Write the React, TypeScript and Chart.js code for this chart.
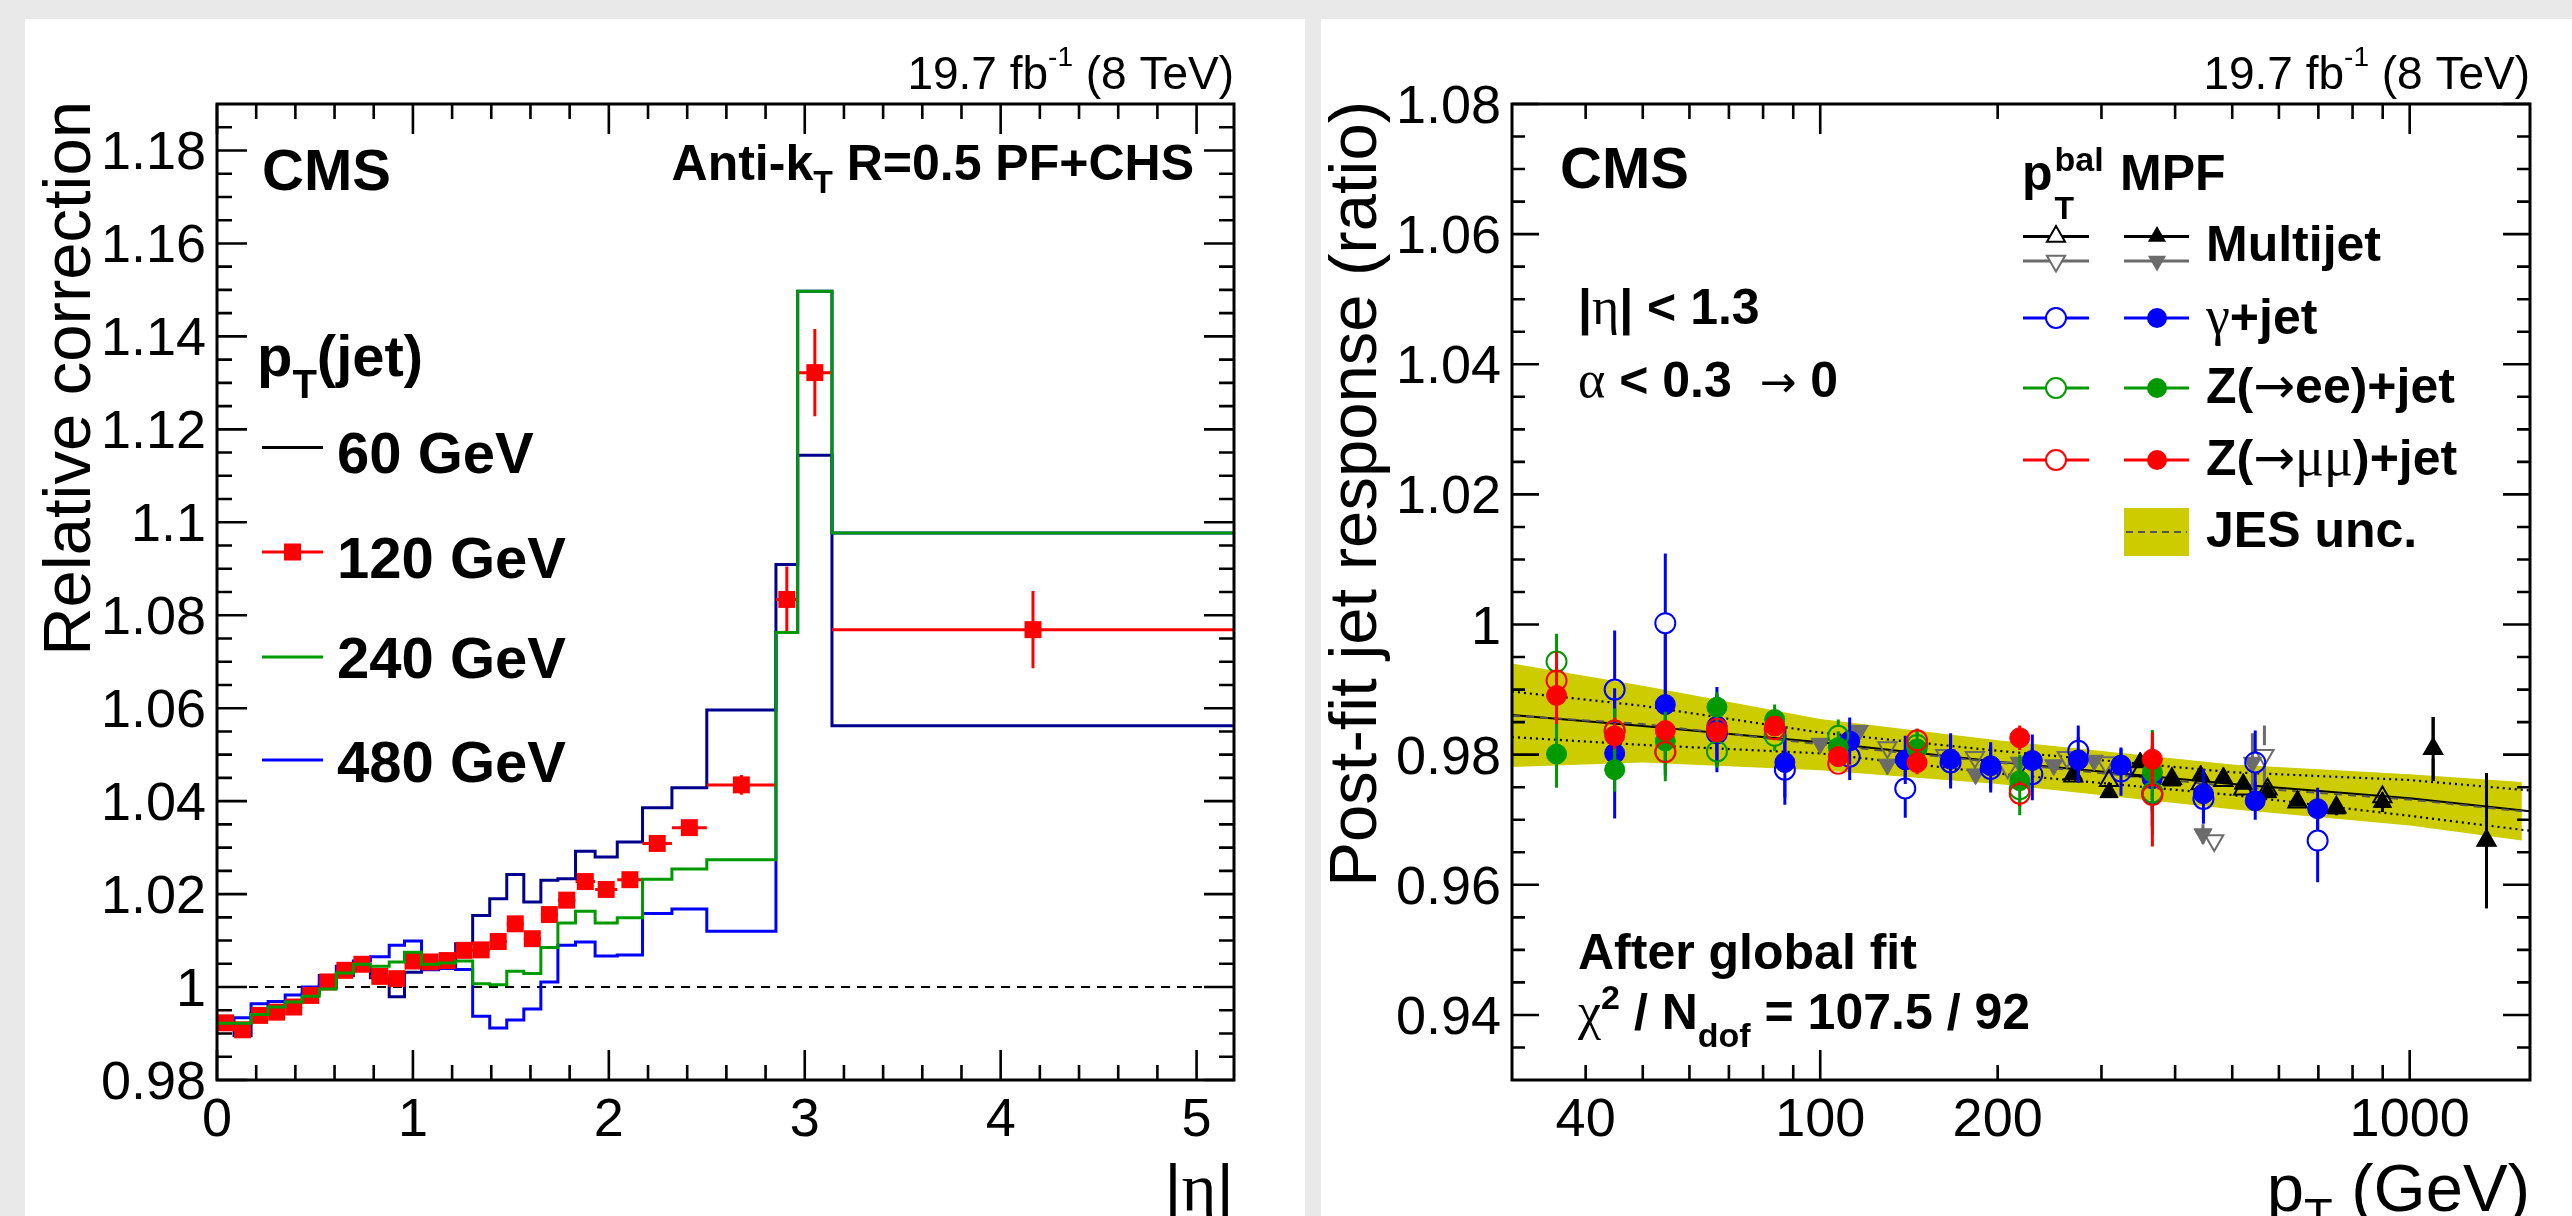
import React, { useEffect, useRef } from 'react';
import { Chart, registerables } from 'chart.js';

Chart.register(...registerables);

const SANS = '"Liberation Sans", Arial, Helvetica, sans-serif';
const SERIF = '"Liberation Serif", "Times New Roman", serif';
const ARROW = '"DejaVu Sans", sans-serif';

// ---------------- Left panel data ----------------
const etaEdges = [0, 0.087, 0.174, 0.261, 0.348, 0.435, 0.522, 0.609, 0.696, 0.783, 0.879, 0.957, 1.044, 1.131, 1.218, 1.305, 1.392, 1.479, 1.566, 1.653, 1.74, 1.83, 1.93, 2.043, 2.172, 2.322, 2.5, 2.853, 2.964, 3.139, 5.191];
const corr60 = [0.9921, 0.9896, 0.9943, 0.996, 0.9968, 0.9986, 1.0005, 1.0025, 1.0047, 1.002, 0.9979, 1.0032, 1.0038, 1.0046, 1.0093, 1.0154, 1.019, 1.0242, 1.0183, 1.023, 1.0233, 1.0292, 1.028, 1.0312, 1.0386, 1.0429, 1.0596, 1.0909, 1.1144, 1.0562];
const corr120 = [0.9923, 0.9908, 0.9939, 0.9946, 0.9957, 0.9982, 1.0011, 1.0036, 1.0049, 1.0023, 1.0018, 1.0056, 1.0054, 1.0057, 1.0079, 1.008, 1.0098, 1.0136, 1.0104, 1.0156, 1.0187, 1.0227, 1.021, 1.0231, 1.0309, 1.0343, 1.0435, 1.0834, 1.1322, 1.0769];
const corr120Err = [0.0012, 0.0012, 0.0012, 0.0012, 0.0012, 0.0012, 0.0012, 0.0012, 0.0012, 0.0012, 0.0012, 0.0012, 0.0012, 0.0012, 0.0012, 0.0012, 0.0012, 0.0012, 0.0012, 0.0012, 0.0012, 0.0014, 0.0014, 0.0014, 0.0014, 0.0014, 0.0021, 0.0071, 0.0094, 0.0083];
const corr240 = [0.9922, 0.9922, 0.9941, 0.9957, 0.9968, 0.998, 0.9996, 1.003, 1.0049, 1.0045, 1.0054, 1.0075, 1.0049, 1.0052, 1.0056, 1.0007, 1.0005, 1.0034, 1.0029, 1.0085, 1.0138, 1.0163, 1.0138, 1.0149, 1.0232, 1.0254, 1.0274, 1.0763, 1.1497, 1.0977];
const corr480 = [0.9925, 0.9934, 0.9964, 0.9969, 0.9983, 1.0, 1.0025, 1.0045, 1.0056, 1.0065, 1.009, 1.0099, 1.0037, 1.004, 1.0038, 0.9937, 0.9912, 0.9929, 0.9953, 1.0011, 1.009, 1.0097, 1.0067, 1.0069, 1.0158, 1.0168, 1.012, 1.0763, 1.1497, 1.0977];
const refEta = [0, 5.191];
const refVal = [1, 1];
const leftXTicks = [0, 1, 2, 3, 4, 5];
const leftXLabels = ['0', '1', '2', '3', '4', '5'];
const leftYTicks = [0.98, 1.0, 1.02, 1.04, 1.06, 1.08, 1.1, 1.12, 1.14, 1.16, 1.18];
const leftYLabels = ['0.98', '1', '1.02', '1.04', '1.06', '1.08', '1.1', '1.12', '1.14', '1.16', '1.18'];
const leftLegend = ['60 GeV', '120 GeV', '240 GeV', '480 GeV'];

// ---------------- Right panel data ----------------
const jesPt = [30, 50, 100, 200, 500, 1000, 1550];
const jesUp = [0.994, 0.9906, 0.9855, 0.9822, 0.9785, 0.977, 0.9758];
const jesDn = [0.9781, 0.9788, 0.9776, 0.9755, 0.9716, 0.9691, 0.9668];
const jesMid = [0.986, 0.9847, 0.9816, 0.9788, 0.9751, 0.9731, 0.9713];
const fitPt = [30, 50, 100, 200, 500, 1000, 1600];
const fitVal = [0.9861, 0.9844, 0.9819, 0.9789, 0.9755, 0.9733, 0.9713];
const fitUp = [0.9897, 0.9875, 0.9834, 0.9806, 0.9773, 0.9761, 0.9745];
const fitDn = [0.9827, 0.9815, 0.9802, 0.9771, 0.9738, 0.9706, 0.9683];

const mjPt = [268.7, 309, 349, 395, 442, 483, 522, 574, 645, 751, 899, 1096, 1350];
const mjMpf = [0.977, 0.9742, 0.9788, 0.976, 0.9768, 0.9765, 0.9755, 0.9742, 0.9729, 0.9717, 0.9727, 0.9809, 0.9668];
const mjBal = [0.9767, 0.976, 0.9775, 0.9763, 0.9755, 0.976, 0.9747, 0.9747, 0.9727, 0.9719, 0.9735, 0.9809, 0.9668];
const mjErr = [0.0008, 0.0008, 0.0008, 0.0008, 0.0008, 0.0008, 0.0008, 0.0008, 0.0008, 0.001, 0.0015, 0.0049, 0.0104];

const mj2MpfPt = [100, 116, 130, 183.5, 217.6, 249, 291.6, 446, 541];
const mj2Mpf = [0.9817, 0.9837, 0.9785, 0.977, 0.9788, 0.9784, 0.9791, 0.9678, 0.9788];
const mj2MpfErr = [0.0006, 0.0006, 0.0006, 0.0006, 0.0006, 0.0006, 0.0008, 0.0015, 0.0045];
const mj2BalPt = [116, 130, 163, 183, 208, 262, 305, 466, 567];
const mj2Bal = [0.9836, 0.9811, 0.9799, 0.9796, 0.978, 0.9796, 0.9788, 0.9668, 0.9799];
const mj2BalErr = [0.0006, 0.0006, 0.0006, 0.0006, 0.0006, 0.0006, 0.0008, 0.0015, 0.0046];

const gjPt = [44.8, 54.6, 66.8, 87.1, 112.2, 139.4, 166.4, 194.6, 229, 274, 323.8, 365.8, 446.8, 547, 698];
const gjMpf = [0.9802, 0.9877, 0.9844, 0.9788, 0.9821, 0.9792, 0.9793, 0.9783, 0.9791, 0.9792, 0.9784, 0.9763, 0.974, 0.9729, 0.9717];
const gjMpfErr = [0.01, 0.0109, 0.006, 0.0054, 0.0036, 0.0037, 0.004, 0.0036, 0.004, 0.0035, 0.0025, 0.005, 0.0038, 0.0029, 0.0032];
const gjBal = [0.99, 1.0002, 0.9833, 0.9777, 0.9797, 0.9748, 0.9788, 0.9778, 0.977, 0.9806, 0.9774, 0.974, 0.9732, 0.9788, 0.9668];
const gjBalErr = [0.0091, 0.0107, 0.006, 0.0054, 0.0036, 0.0045, 0.004, 0.0036, 0.004, 0.0039, 0.0037, 0.005, 0.0038, 0.0049, 0.0064];

const zPt = [35.7, 44.8, 54.6, 66.8, 83.7, 107.3, 146, 218, 366];
const zeeMpf = [0.9801, 0.9777, 0.9821, 0.9873, 0.9854, 0.9811, 0.9809, 0.976, 0.9773];
const zeeMpfErr = [0.0052, 0.0034, 0.0045, 0.0023, 0.0023, 0.0025, 0.0025, 0.004, 0.0065];
const zeeBal = [0.9943, 0.9837, 0.9804, 0.9805, 0.9829, 0.9829, 0.9815, 0.9747, 0.9742];
const zeeBalErr = [0.0043, 0.0034, 0.0045, 0.0025, 0.0023, 0.0025, 0.0025, 0.004, 0.0065];
const zmmMpf = [0.9891, 0.9829, 0.9837, 0.9835, 0.9844, 0.9797, 0.9788, 0.9826, 0.9793];
const zmmMpfErr = [0.0044, 0.002, 0.0015, 0.0015, 0.0015, 0.0015, 0.0018, 0.0019, 0.0041];
const zmmBal = [0.9914, 0.9837, 0.9804, 0.984, 0.9839, 0.9786, 0.9822, 0.974, 0.9738];
const zmmBalErr = [0.0044, 0.002, 0.0015, 0.0015, 0.0015, 0.0015, 0.0018, 0.0019, 0.0079];

const rightXTicks = [40, 100, 200, 1000];
const rightXLabels = ['40', '100', '200', '1000'];
const rightYTicks = [0.94, 0.96, 0.98, 1.0, 1.02, 1.04, 1.06, 1.08];
const rightYLabels = ['0.94', '0.96', '0.98', '1', '1.02', '1.04', '1.06', '1.08'];

// ---------------- Geometry (page coordinates) ----------------
const LP = { x: 25, y: 19, w: 1280, h: 1197 };
const RP = { x: 1321, y: 19, w: 1251, h: 1197 };
const LF = { l: 217, r: 1234, t: 104, b: 1080 };
const RF = { l: 1512, r: 2530, t: 104, b: 1080 };

const C_NAVY = '#00008c';
const C_BLUE = '#0000ff';
const C_GREEN = '#009a00';
const C_RED = '#ff0000';
const C_GRAY = '#6b6b6b';
const C_BAND = '#cccc00';

type Seg = { t: string; f: string; dy?: number };

function rich(ctx: any, segs: Seg[], x: number, y: number, align: string) {
  let w = 0;
  for (const s of segs) { ctx.font = s.f; w += ctx.measureText(s.t).width; }
  let cx = align === 'left' ? x : align === 'right' ? x - w : x - w / 2;
  ctx.textAlign = 'left';
  ctx.textBaseline = 'alphabetic';
  for (const s of segs) {
    ctx.font = s.f;
    ctx.fillText(s.t, cx, y + (s.dy || 0));
    cx += ctx.measureText(s.t).width;
  }
}

function rotText(ctx: any, segs: Seg[], x: number, y: number) {
  ctx.save();
  ctx.translate(x, y);
  ctx.rotate(-Math.PI / 2);
  rich(ctx, segs, 0, 0, 'right');
  ctx.restore();
}

function legendMarker(ctx: any, kind: string, x: number, y: number, color: string, filled: boolean) {
  ctx.save();
  ctx.fillStyle = color;
  ctx.strokeStyle = color;
  ctx.lineWidth = 2;
  ctx.beginPath();
  const r = 10.5;
  if (kind === 'circle') ctx.arc(x, y, 10, 0, Math.PI * 2);
  else if (kind === 'up') { ctx.moveTo(x, y - r); ctx.lineTo(x + 0.866 * r, y + 0.5 * r); ctx.lineTo(x - 0.866 * r, y + 0.5 * r); ctx.closePath(); }
  else if (kind === 'down') { ctx.moveTo(x, y + r); ctx.lineTo(x + 0.866 * r, y - 0.5 * r); ctx.lineTo(x - 0.866 * r, y - 0.5 * r); ctx.closePath(); }
  else if (kind === 'square') ctx.rect(x - 8.5, y - 8.5, 17, 17);
  if (filled) ctx.fill();
  else { ctx.fillStyle = '#ffffff'; ctx.fill(); ctx.stroke(); }
  ctx.restore();
}

function hline(ctx: any, x1: number, x2: number, y: number, color: string, w: number, dash?: number[]) {
  ctx.save();
  ctx.strokeStyle = color;
  ctx.lineWidth = w;
  if (dash) ctx.setLineDash(dash);
  ctx.beginPath();
  ctx.moveTo(x1, y);
  ctx.lineTo(x2, y);
  ctx.stroke();
  ctx.restore();
}

function drawAxes(chart: any, cfg: any) {
  const { ctx, chartArea: a } = chart;
  const xs = chart.scales.x;
  const ys = chart.scales.y;
  ctx.save();
  ctx.strokeStyle = '#000';
  ctx.lineWidth = 2.6;
  ctx.beginPath();
  const xt = (vals: number[], len: number) => {
    for (const v of vals) {
      const p = xs.getPixelForValue(v);
      ctx.moveTo(p, a.bottom); ctx.lineTo(p, a.bottom - len);
      ctx.moveTo(p, a.top); ctx.lineTo(p, a.top + len);
    }
  };
  const yt = (vals: number[], len: number) => {
    for (const v of vals) {
      const p = ys.getPixelForValue(v);
      ctx.moveTo(a.left, p); ctx.lineTo(a.left + len, p);
      ctx.moveTo(a.right, p); ctx.lineTo(a.right - len, p);
    }
  };
  xt(cfg.xMajor, cfg.xMajLen);
  xt(cfg.xMinor, cfg.xMinLen);
  yt(cfg.yMajor, cfg.yMajLen);
  yt(cfg.yMinor, cfg.yMinLen);
  ctx.stroke();
  ctx.lineWidth = 3;
  ctx.strokeRect(a.left, a.top, a.right - a.left, a.bottom - a.top);
  ctx.fillStyle = '#000';
  const f = `54px ${SANS}`;
  cfg.xLabelVals.forEach((v: number, i: number) => {
    rich(ctx, [{ t: cfg.xLabels[i], f }], xs.getPixelForValue(v), a.bottom + 56, 'center');
  });
  cfg.yLabelVals.forEach((v: number, i: number) => {
    rich(ctx, [{ t: cfg.yLabels[i], f }], a.left - 11, ys.getPixelForValue(v) + 19, 'right');
  });
  ctx.restore();
}

const errorBarPlugin = {
  id: 'errbars',
  beforeDatasetDraw(chart: any, args: any) {
    const ds: any = chart.data.datasets[args.index];
    if (!ds.errY && !ds.errXLo) return;
    const ctx = chart.ctx;
    const xs = chart.scales.x;
    const ys = chart.scales.y;
    const a = chart.chartArea;
    ctx.save();
    ctx.beginPath();
    ctx.rect(a.left, a.top, a.right - a.left, a.bottom - a.top);
    ctx.clip();
    ctx.strokeStyle = ds.errColor;
    ctx.lineWidth = ds.errWidth || 3;
    const gap = ds.errGap || 0;
    ctx.beginPath();
    ds.data.forEach((p: any, i: number) => {
      const px = xs.getPixelForValue(p.x);
      const py = ys.getPixelForValue(p.y);
      if (ds.errY) {
        const e = ds.errY[i];
        const y1 = ys.getPixelForValue(p.y + e);
        const y2 = ys.getPixelForValue(p.y - e);
        if (py - gap > y1) { ctx.moveTo(px, y1); ctx.lineTo(px, py - gap); }
        if (y2 > py + gap) { ctx.moveTo(px, py + gap); ctx.lineTo(px, y2); }
      }
      if (ds.errXLo) {
        const x1 = xs.getPixelForValue(ds.errXLo[i]);
        const x2 = xs.getPixelForValue(ds.errXHi[i]);
        ctx.moveTo(x1, py); ctx.lineTo(x2, py);
      }
    });
    ctx.stroke();
    ctx.restore();
  },
};

function pts(xs: number[], ys: number[]) {
  return xs.map((x, i) => ({ x, y: ys[i] }));
}

function stepPts(edges: number[], vals: number[]) {
  const p = vals.map((v, i) => ({ x: edges[i], y: v }));
  p.push({ x: edges[edges.length - 1], y: vals[vals.length - 1] });
  return p;
}

function withOrder(list: any[]) {
  return list.map((d, i) => ({ ...d, order: -i }));
}

function baseOptions(panel: any, frame: any, xScale: any, yScale: any) {
  return {
    responsive: false,
    maintainAspectRatio: false,
    animation: false,
    devicePixelRatio: 1,
    events: [],
    layout: {
      padding: {
        left: frame.l - panel.x,
        top: frame.t - panel.y,
        right: panel.x + panel.w - frame.r,
        bottom: panel.y + panel.h - frame.b,
      },
    },
    plugins: { legend: { display: false }, tooltip: { enabled: false } },
    scales: { x: { ...xScale, display: false }, y: { ...yScale, display: false } },
  };
}

function leftConfig(): any {
  const centers = corr120.map((_, i) => (etaEdges[i] + etaEdges[i + 1]) / 2);
  const stepDs = (label: string, vals: number[], color: string) => ({
    label, data: stepPts(etaEdges, vals), stepped: 'before', borderColor: color, borderWidth: 3, pointRadius: 0, fill: false,
  });
  const datasets = withOrder([
    { label: 'ref', data: pts(refEta, refVal), borderColor: '#000', borderWidth: 2, borderDash: [9, 7], pointRadius: 0, fill: false },
    stepDs('60 GeV', corr60, C_NAVY),
    stepDs('480 GeV', corr480, C_BLUE),
    {
      label: '120 GeV', data: pts(centers, corr120), showLine: false, pointStyle: 'rect', pointRadius: 12,
      pointBackgroundColor: C_RED, pointBorderColor: C_RED, pointBorderWidth: 0,
      errY: corr120Err, errXLo: etaEdges.slice(0, -1), errXHi: etaEdges.slice(1), errColor: C_RED, errWidth: 3,
    },
    stepDs('240 GeV', corr240, C_GREEN),
  ]);
  const xMinor: number[] = [];
  for (let i = 1; i <= 25; i++) if (i % 5 !== 0) xMinor.push(i * 0.2);
  const yMinor: number[] = [];
  for (let i = 1; i < 42; i++) if (i % 4 !== 0) yMinor.push(0.98 + i * 0.005);
  const decor = {
    id: 'leftDecor',
    afterDraw(chart: any) {
      drawAxes(chart, {
        xMajor: leftXTicks, xMinor, yMajor: leftYTicks, yMinor,
        xMajLen: 30, xMinLen: 15, yMajLen: 30, yMinLen: 15,
        xLabelVals: leftXTicks, xLabels: leftXLabels, yLabelVals: leftYTicks, yLabels: leftYLabels,
      });
      const ctx = chart.ctx;
      ctx.save();
      ctx.translate(-LP.x, -LP.y);
      ctx.fillStyle = '#000';
      const B = (s: number) => `bold ${s}px ${SANS}`;
      const N = (s: number) => `${s}px ${SANS}`;
      rich(ctx, [{ t: '19.7 fb', f: N(46) }, { t: '-1', f: N(28), dy: -23 }, { t: ' (8 TeV)', f: N(46) }], 1234, 89, 'right');
      rich(ctx, [{ t: 'CMS', f: B(58) }], 262, 190, 'left');
      rich(ctx, [{ t: 'Anti-k', f: B(50) }, { t: 'T', f: B(32), dy: 13 }, { t: ' R=0.5 PF+CHS', f: B(50) }], 1194, 180, 'right');
      rich(ctx, [{ t: 'p', f: B(58) }, { t: 'T', f: B(40), dy: 22 }, { t: '(jet)', f: B(58) }], 257, 376, 'left');
      const rowsLine = [447.5, 552, 657, 760];
      const rowsText = [473, 578, 678, 782];
      const cols = ['#000000', C_RED, C_GREEN, C_BLUE];
      leftLegend.forEach((lab, i) => {
        hline(ctx, 262, 323, rowsLine[i], cols[i], 3);
        if (i === 1) legendMarker(ctx, 'square', 292.5, rowsLine[i], C_RED, true);
        rich(ctx, [{ t: lab, f: B(58) }], 337, rowsText[i], 'left');
      });
      rotText(ctx, [{ t: 'Relative correction', f: N(67) }], 90, 101);
      rich(ctx, [{ t: '|', f: N(67) }, { t: 'η', f: `67px ${SERIF}` }, { t: '|', f: N(67) }], 1234, 1211, 'right');
      ctx.restore();
    },
  };
  return {
    type: 'line',
    data: { datasets },
    options: baseOptions(LP, LF, { type: 'linear', min: 0, max: 5.191 }, { type: 'linear', min: 0.98, max: 1.19 }),
    plugins: [errorBarPlugin, decor],
  };
}

function markerDs(label: string, xs: number[], ys: number[], errs: number[], color: string, kind: string, filled: boolean) {
  const tri = kind !== 'circle';
  return {
    label,
    data: pts(xs, ys),
    showLine: false,
    pointStyle: tri ? 'triangle' : 'circle',
    pointRotation: kind === 'down' ? 180 : 0,
    pointRadius: tri ? 10.5 : 10,
    pointBackgroundColor: filled ? color : 'rgba(0,0,0,0)',
    pointBorderColor: color,
    pointBorderWidth: filled ? 1 : 2,
    borderColor: color,
    errY: errs,
    errColor: color,
    errWidth: 3,
    errGap: filled ? 0 : 10,
  };
}

function rightConfig(): any {
  const lineDs = (label: string, xs: number[], ys: number[], color: string, w: number, dash?: number[]) => ({
    label, data: pts(xs, ys), borderColor: color, borderWidth: w, borderDash: dash || [], pointRadius: 0, fill: false,
  });
  const datasets = withOrder([
    { label: 'JES up', data: pts(jesPt, jesUp), borderWidth: 0, borderColor: C_BAND, pointRadius: 0, fill: '+1', backgroundColor: C_BAND },
    { label: 'JES dn', data: pts(jesPt, jesDn), borderWidth: 0, borderColor: C_BAND, pointRadius: 0, fill: false },
    lineDs('fit up', fitPt, fitUp, '#000', 2.2, [2, 4]),
    lineDs('fit dn', fitPt, fitDn, '#000', 2.2, [2, 4]),
    lineDs('fit', fitPt, fitVal, '#000', 2),
    lineDs('JES mid', jesPt, jesMid, '#555555', 2, [8, 6]),
    markerDs('Multijet2 pTbal', mj2BalPt, mj2Bal, mj2BalErr, C_GRAY, 'down', false),
    markerDs('Multijet2 MPF', mj2MpfPt, mj2Mpf, mj2MpfErr, C_GRAY, 'down', true),
    markerDs('Multijet pTbal', mjPt, mjBal, mjErr, '#000000', 'up', false),
    markerDs('Multijet MPF', mjPt, mjMpf, mjErr, '#000000', 'up', true),
    markerDs('gamma pTbal', gjPt, gjBal, gjBalErr, C_BLUE, 'circle', false),
    markerDs('gamma MPF', gjPt, gjMpf, gjMpfErr, C_BLUE, 'circle', true),
    markerDs('Zee pTbal', zPt, zeeBal, zeeBalErr, C_GREEN, 'circle', false),
    markerDs('Zee MPF', zPt, zeeMpf, zeeMpfErr, C_GREEN, 'circle', true),
    markerDs('Zmm pTbal', zPt, zmmBal, zmmBalErr, C_RED, 'circle', false),
    markerDs('Zmm MPF', zPt, zmmMpf, zmmMpfErr, C_RED, 'circle', true),
  ]);
  const xMajor = [100, 1000];
  const xMinor: number[] = [];
  for (let v = 40; v < 100; v += 10) xMinor.push(v);
  for (let v = 200; v < 1000; v += 100) xMinor.push(v);
  const yMinor: number[] = [];
  for (let i = 1; i < 30; i++) if (i % 4 !== 2) yMinor.push(0.93 + i * 0.005);
  const decor = {
    id: 'rightDecor',
    afterDraw(chart: any) {
      drawAxes(chart, {
        xMajor, xMinor, yMajor: rightYTicks, yMinor,
        xMajLen: 30, xMinLen: 15, yMajLen: 27, yMinLen: 13,
        xLabelVals: rightXTicks, xLabels: rightXLabels, yLabelVals: rightYTicks, yLabels: rightYLabels,
      });
      const ctx = chart.ctx;
      ctx.save();
      ctx.translate(-RP.x, -RP.y);
      ctx.fillStyle = '#000';
      const B = (s: number) => `bold ${s}px ${SANS}`;
      const N = (s: number) => `${s}px ${SANS}`;
      const G = (s: number) => `${s}px ${SERIF}`;
      const A = (s: number) => `${s}px ${ARROW}`;
      rich(ctx, [{ t: '19.7 fb', f: N(46) }, { t: '-1', f: N(28), dy: -23 }, { t: ' (8 TeV)', f: N(46) }], 2530, 89, 'right');
      rich(ctx, [{ t: 'CMS', f: B(58) }], 1560, 188, 'left');
      rich(ctx, [{ t: '|', f: B(50) }, { t: 'η', f: G(52) }, { t: '| < 1.3', f: B(50) }], 1578, 324, 'left');
      rich(ctx, [{ t: 'α', f: G(52) }, { t: ' < 0.3  ', f: B(50) }, { t: '→', f: A(44) }, { t: ' 0', f: B(50) }], 1578, 397, 'left');
      rich(ctx, [{ t: 'After global fit', f: B(50) }], 1578, 969, 'left');
      rich(ctx, [{ t: 'χ', f: G(52) }, { t: '2', f: B(34), dy: -20 }, { t: ' / N', f: B(50) }, { t: 'dof', f: B(34), dy: 18 }, { t: ' = 107.5 / 92', f: B(50) }], 1578, 1029, 'left');
      // legend header
      ctx.font = B(50);
      const pw = ctx.measureText('p').width;
      rich(ctx, [{ t: 'p', f: B(50) }], 2022, 190, 'left');
      rich(ctx, [{ t: 'bal', f: B(34) }], 2022 + pw + 2, 171, 'left');
      rich(ctx, [{ t: 'T', f: B(32) }], 2022 + pw + 2, 219, 'left');
      rich(ctx, [{ t: 'MPF', f: B(50) }], 2120, 190, 'left');
      const ox = 2056, fx = 2157, tx = 2206;
      // Multijet
      hline(ctx, 2023, 2089, 236.5, '#000', 3);
      hline(ctx, 2023, 2089, 261, C_GRAY, 3);
      hline(ctx, 2124, 2189, 236.5, '#000', 3);
      hline(ctx, 2124, 2189, 261, C_GRAY, 3);
      legendMarker(ctx, 'up', ox, 236.5, '#000', false);
      legendMarker(ctx, 'down', ox, 261, C_GRAY, false);
      legendMarker(ctx, 'up', fx, 236.5, '#000', true);
      legendMarker(ctx, 'down', fx, 261, C_GRAY, true);
      rich(ctx, [{ t: 'Multijet', f: B(50) }], tx, 261, 'left');
      const rows = [
        { y: 318, b: 333.5, c: C_BLUE, segs: [{ t: 'γ', f: G(54) }, { t: '+jet', f: B(50) }] },
        { y: 388, b: 403, c: C_GREEN, segs: [{ t: 'Z(', f: B(50) }, { t: '→', f: A(50) }, { t: 'ee)+jet', f: B(50) }] },
        { y: 460, b: 475, c: C_RED, segs: [{ t: 'Z(', f: B(50) }, { t: '→', f: A(50) }, { t: 'μμ', f: G(54) }, { t: ')+jet', f: B(50) }] },
      ];
      for (const r of rows) {
        hline(ctx, 2023, 2089, r.y, r.c, 3);
        hline(ctx, 2124, 2189, r.y, r.c, 3);
        legendMarker(ctx, 'circle', ox, r.y, r.c, false);
        legendMarker(ctx, 'circle', fx, r.y, r.c, true);
        rich(ctx, r.segs, tx, r.b, 'left');
      }
      ctx.fillStyle = C_BAND;
      ctx.fillRect(2124, 508, 65, 48);
      hline(ctx, 2126, 2187, 532, '#555555', 2, [7, 5]);
      ctx.fillStyle = '#000';
      rich(ctx, [{ t: 'JES unc.', f: B(50) }], tx, 547, 'left');
      rotText(ctx, [{ t: 'Post-fit jet response (ratio)', f: N(67) }], 1376, 101);
      rich(ctx, [{ t: 'p', f: N(67) }, { t: 'T', f: N(47), dy: 20 }, { t: ' (GeV)', f: N(67) }], 2530, 1211, 'right');
      ctx.restore();
    },
  };
  return {
    type: 'line',
    data: { datasets },
    options: baseOptions(RP, RF, { type: 'logarithmic', min: 30, max: 1600 }, { type: 'linear', min: 0.93, max: 1.08 }),
    plugins: [errorBarPlugin, decor],
  };
}

function Panel({ panel, build }: { panel: any; build: () => any }) {
  const ref = useRef<HTMLCanvasElement>(null);
  useEffect(() => {
    const chart = new Chart(ref.current as HTMLCanvasElement, build());
    return () => chart.destroy();
  }, []);
  return (
    <div style={{ position: 'absolute', left: panel.x, top: panel.y, width: panel.w, height: panel.h, background: '#ffffff' }}>
      <canvas ref={ref} width={panel.w} height={panel.h} style={{ display: 'block', width: panel.w, height: panel.h }} />
    </div>
  );
}

export default function App() {
  useEffect(() => {
    document.body.style.overflow = 'hidden';
  }, []);
  return (
    <div style={{ position: 'absolute', left: 0, top: 0, width: 2572, height: 1216, background: '#e9e9e9', overflow: 'hidden' }}>
      <Panel panel={LP} build={leftConfig} />
      <Panel panel={RP} build={rightConfig} />
    </div>
  );
}
